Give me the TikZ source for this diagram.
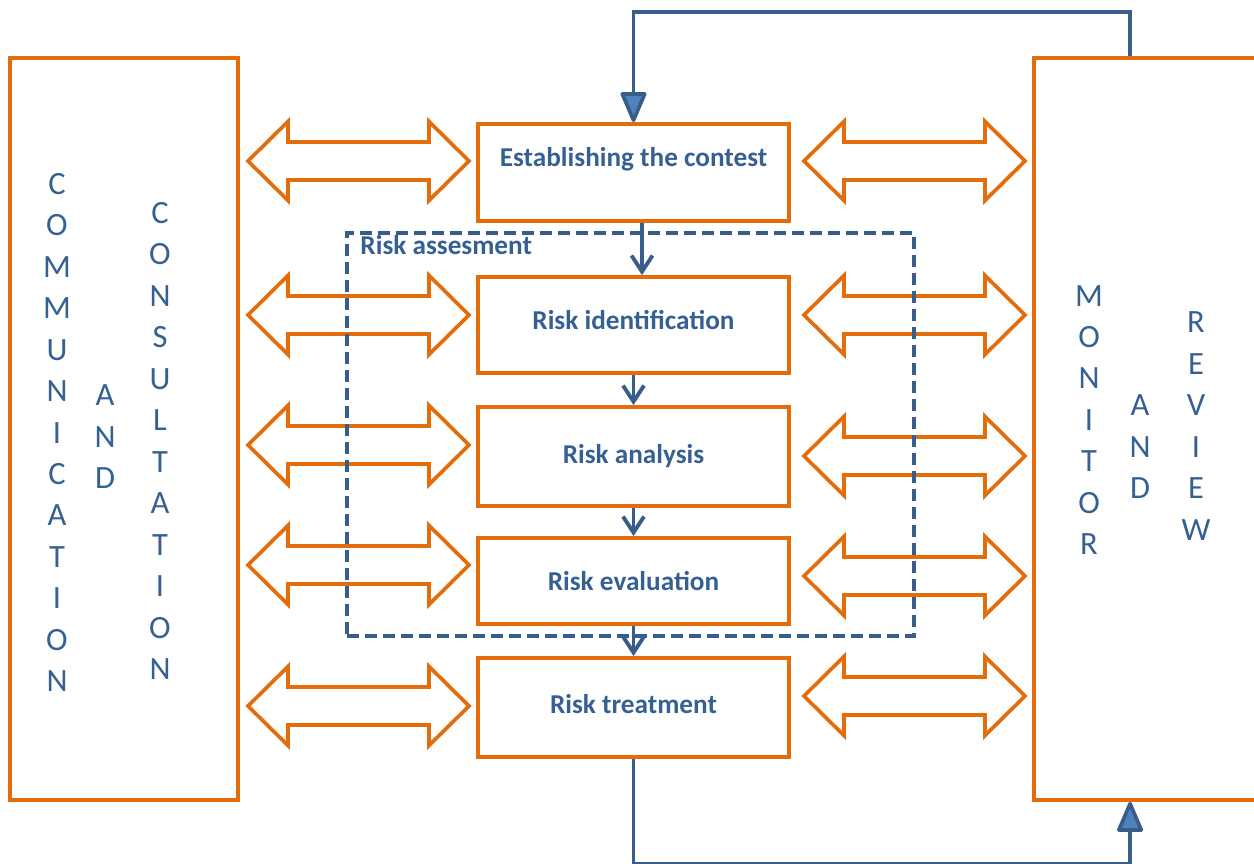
\documentclass[tikz,border=0pt]{standalone}
\usepackage{fontspec}
\setmainfont{Carlito}
\usepackage{tikz}
\usetikzlibrary{arrows.meta}
\definecolor{riskorange}{HTML}{E46C0A}
\definecolor{riskblue}{HTML}{376092}
\definecolor{lineblue}{HTML}{385D8A}
\definecolor{tipblue}{HTML}{4F81BD}
\tikzstyle{flow} = [draw=lineblue, line width=2.2pt, -{Straight Barb[length=0.32cm,width=0.42cm]}]
\tikzstyle{feedback} = [draw=lineblue, line width=2.1pt, -{Triangle[length=0.66cm,width=0.54cm,fill=tipblue,round]}]
\tikzset{twoway/.pic={
    \draw[draw=riskorange, line width=2.1pt] (-110.5,0) -- (-70.5,-39.5) -- (-70.5,-19) -- (70.5,-19)
        -- (70.5,-39.5) -- (110.5,0) -- (70.5,39.5) -- (70.5,19) -- (-70.5,19) -- (-70.5,39.5) -- cycle;
}}

\begin{document}
\begin{tikzpicture}[x=0.02cm, y=-0.02cm]
                    \tikzstyle{every node}=[text=riskblue]
                    \tikzstyle{stage} = [draw=riskorange, line width=2.2pt, minimum width=6.22cm, inner sep=0pt, align=center, font=\bfseries\fontsize{15.5}{18}\selectfont]
                    \tikzstyle{sidebox} = [draw=riskorange, line width=2.2pt, minimum height=14.84cm]
                    \tikzstyle{spelled} = [align=center, inner sep=0pt, font=\fontsize{18.5}{23.6}\selectfont]
                    \tikzstyle{assessbox} = [draw=lineblue, line width=2.2pt, dash pattern=on 0.24cm off 0.12cm, minimum width=11.34cm, minimum height=8.06cm]

                    \useasboundingbox (0,0) rectangle (1254,864);

                    % side boxes
                    \node[sidebox, minimum width=4.56cm](combox) at (124,429) {};
                    \node[sidebox, minimum width=4.92cm](monbox) at (1157,429) {};

                    \node[spelled](comm) at (57,432.5) {C\\O\\M\\M\\U\\N\\I\\C\\A\\T\\I\\O\\N};
                    \node[spelled](andl) at (105,437) {A\\N\\D};
                    \node[spelled](cons) at (160,441) {C\\O\\N\\S\\U\\L\\T\\A\\T\\I\\O\\N};
                    \node[spelled](mon) at (1089,420) {M\\O\\N\\I\\T\\O\\R};
                    \node[spelled](andr) at (1140,447) {A\\N\\D};
                    \node[spelled](rev) at (1196,426) {R\\E\\V\\I\\E\\W};

                    % process steps
                    \node[stage, minimum height=1.94cm](context) at (633.5,172.5) {Establishing the contest\\ \mbox{}};
                    \node[stage, minimum height=1.92cm, text depth=1.2ex](ident) at (633.5,325) {Risk identification};
                    \node[stage, minimum height=1.98cm](analysis) at (633.5,456.5) {Risk analysis};
                    \node[stage, minimum height=1.72cm](evaluation) at (633.5,581) {Risk evaluation};
                    \node[stage, minimum height=1.98cm, text depth=0.9ex](treatment) at (633.5,707.5) {Risk treatment};

                    % two-way arrows
                    \foreach \y in {161,315,445,565,706} \pic at (358.5,\y) {twoway};
                    \foreach \y in {161,315,456,576,696} \pic at (914.5,\y) {twoway};

                    \node[assessbox](assess) at (630.5,434.5) {};
                    \node[anchor=north west, inner xsep=0.3cm, inner ysep=0.08cm, font=\bfseries\fontsize{15.5}{18}\selectfont](assesslabel) at (assess.north west) {Risk assesment};

                    \draw[flow] ([xshift=0.17cm]context.south) -- ([xshift=0.17cm]ident.north);
                    \draw[flow] (ident.south) -- (analysis.north);
                    \draw[flow] (analysis.south) -- (evaluation.north);
                    \draw[flow] (evaluation.south) -- (treatment.north);

                    % feedback loop
                    \draw[feedback] ([xshift=1.96cm]monbox.north west) -- ++(0,-44) -| (context.north);
                    \draw[feedback] (treatment.south) -- ++(0,105) -| ([xshift=1.96cm]monbox.south west);
\end{tikzpicture}
\end{document}
